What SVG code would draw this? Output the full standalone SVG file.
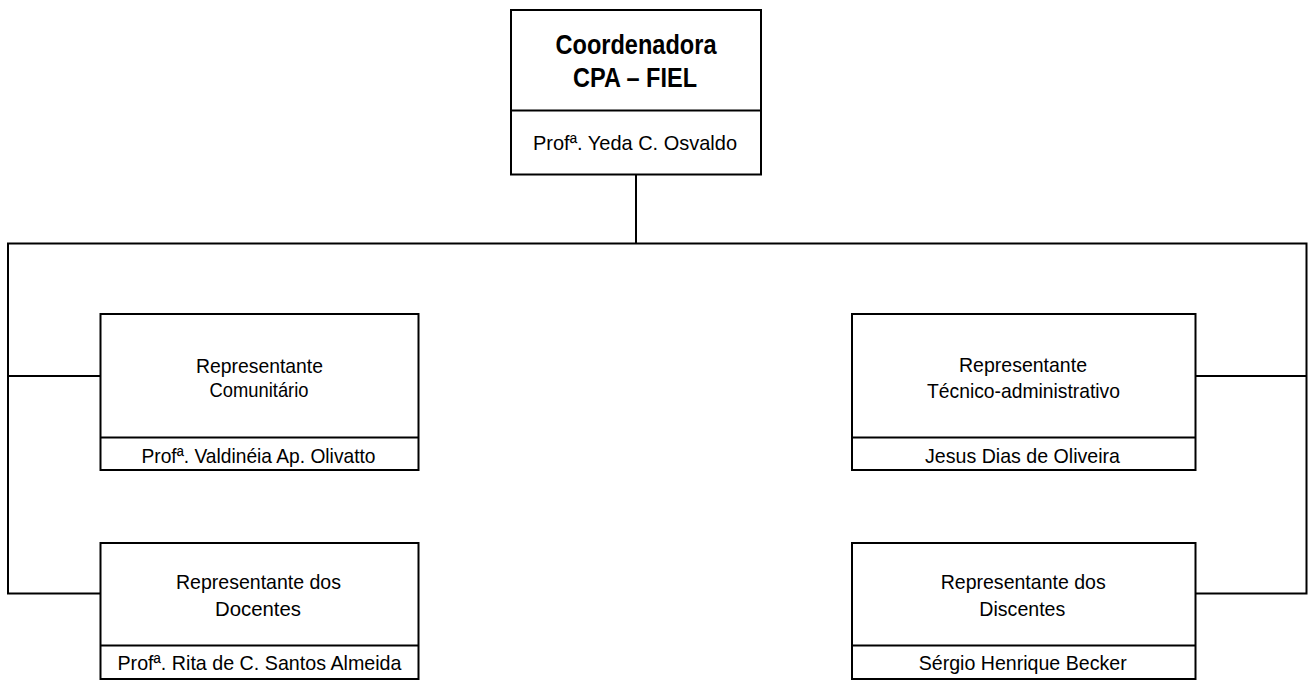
<svg xmlns="http://www.w3.org/2000/svg" width="1310" height="680" viewBox="0 0 1310 680">
<style>
.box{fill:#fff;stroke:#000;stroke-width:2}
.div{stroke:#000;stroke-width:2}
.con{fill:none;stroke:#000;stroke-width:2}
text{font-family:"Liberation Sans Narrow","Liberation Sans",Arial,sans-serif;fill:#000;text-anchor:middle}
.t{font-size:21px}
.b{font-size:27px;font-weight:bold}
</style>
<rect width="1310" height="680" fill="#fff"/>
<g id="connectors">
<polyline class="con" points="636,174.5 636,243.5"/>
<polyline class="con" points="100.5,593.5 8,593.5 8,243.5 1306.5,243.5 1306.5,593.5 1195.5,593.5"/>
<line class="con" x1="8" y1="376" x2="100.5" y2="376"/>
<line class="con" x1="1195.5" y1="376" x2="1306.5" y2="376"/>
</g>
<g id="coordenadora">
<rect class="box" x="511" y="10" width="250" height="164.5"/>
<line class="div" x1="511" y1="110.5" x2="761" y2="110.5"/>
<text class="b" x="636" y="53.5" textLength="161" lengthAdjust="spacingAndGlyphs">Coordenadora</text>
<text class="b" x="635" y="87" textLength="124" lengthAdjust="spacingAndGlyphs">CPA – FIEL</text>
<text class="t" x="635" y="149.5" textLength="204" lengthAdjust="spacingAndGlyphs">Profª. Yeda C. Osvaldo</text>
</g>
<g id="comunitario">
<rect class="box" x="100.5" y="314" width="318" height="156"/>
<line class="div" x1="100.5" y1="437.5" x2="418.5" y2="437.5"/>
<text class="t" x="259.5" y="372.5" textLength="127" lengthAdjust="spacingAndGlyphs">Representante</text>
<text class="t" x="259" y="396.7" textLength="99" lengthAdjust="spacingAndGlyphs">Comunitário</text>
<text class="t" x="258.5" y="462.7" textLength="234" lengthAdjust="spacingAndGlyphs">Profª. Valdinéia Ap. Olivatto</text>
</g>
<g id="docentes">
<rect class="box" x="100.5" y="543" width="318" height="136"/>
<line class="div" x1="100.5" y1="645.5" x2="418.5" y2="645.5"/>
<text class="t" x="258.5" y="589" textLength="165" lengthAdjust="spacingAndGlyphs">Representante dos</text>
<text class="t" x="258" y="616" textLength="86" lengthAdjust="spacingAndGlyphs">Docentes</text>
<text class="t" x="259.5" y="669.5" textLength="284" lengthAdjust="spacingAndGlyphs">Profª. Rita de C. Santos Almeida</text>
</g>
<g id="tecnico">
<rect class="box" x="852" y="314" width="343.5" height="156"/>
<line class="div" x1="852" y1="437.5" x2="1195.5" y2="437.5"/>
<text class="t" x="1023" y="372" textLength="128" lengthAdjust="spacingAndGlyphs">Representante</text>
<text class="t" x="1023.5" y="397.5" textLength="193" lengthAdjust="spacingAndGlyphs">Técnico-administrativo</text>
<text class="t" x="1022.5" y="462.7" textLength="195" lengthAdjust="spacingAndGlyphs">Jesus Dias de Oliveira</text>
</g>
<g id="discentes">
<rect class="box" x="852" y="543" width="343.5" height="136"/>
<line class="div" x1="852" y1="645.5" x2="1195.5" y2="645.5"/>
<text class="t" x="1023.2" y="588.5" textLength="165" lengthAdjust="spacingAndGlyphs">Representante dos</text>
<text class="t" x="1022.3" y="615.5" textLength="86" lengthAdjust="spacingAndGlyphs">Discentes</text>
<text class="t" x="1022.7" y="670" textLength="208" lengthAdjust="spacingAndGlyphs">Sérgio Henrique Becker</text>
</g>
</svg>
